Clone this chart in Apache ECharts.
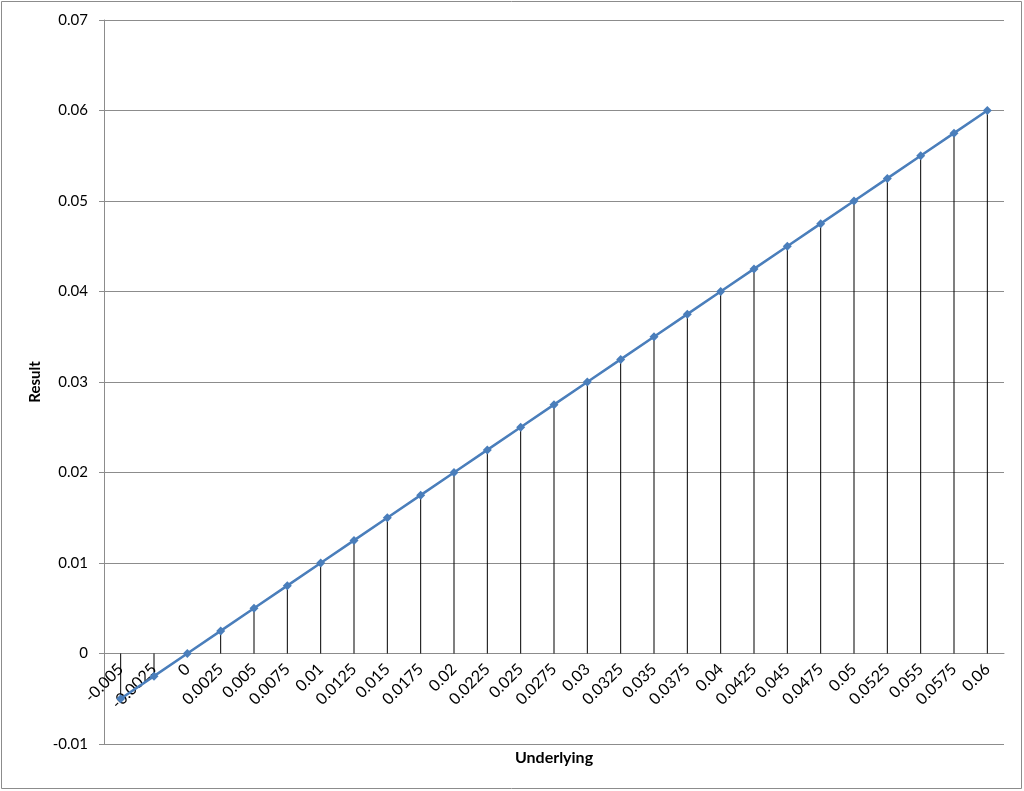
<!DOCTYPE html>
<html><head><meta charset="utf-8">
<script src="https://cdn.jsdelivr.net/npm/echarts@6/dist/echarts.min.js"></script>
<style>html,body{margin:0;padding:0;background:#fff}#c{width:1024px;height:791px}</style>
</head><body><div id="c"></div>
<script>
var categories = ["-0.005","-0.0025","0","0.0025","0.005","0.0075","0.01","0.0125","0.015","0.0175","0.02","0.0225","0.025","0.0275","0.03","0.0325","0.035","0.0375","0.04","0.0425","0.045","0.0475","0.05","0.0525","0.055","0.0575","0.06"];
var resultValues = [-0.005,-0.0025,0,0.0025,0.005,0.0075,0.01,0.0125,0.015,0.0175,0.02,0.0225,0.025,0.0275,0.03,0.0325,0.035,0.0375,0.04,0.0425,0.045,0.0475,0.05,0.0525,0.055,0.0575,0.06];
var yMin = -0.01, yMax = 0.07;
var font = "Lato, 'Open Sans', sans-serif";
var gridTop = 20, gridBottom = 47, H = 791;
var plotH = H - gridTop - gridBottom;
// x axis sits on the zero line: lift it from the grid bottom by the zero's distance
var zeroLift = plotH * (0 - yMin) / (yMax - yMin);
var chart = echarts.init(document.getElementById('c'));
chart.setOption({
  animation: false,
  backgroundColor: '#fff',
  graphic: [{type:'rect', shape:{x:1.5,y:1.5,width:1020,height:787}, style:{fill:'none', stroke:'#8c8c8c', lineWidth:1}}],
  grid: {left:104, right:20, top:gridTop, bottom:gridBottom, containLabel:false, outerBoundsMode:'none'},
  xAxis: {
    type:'category', data:categories, boundaryGap:true,
    offset: -zeroLift,
    name:'Underlying', nameLocation:'middle', nameGap:96, nameMoveOverlap:false,
    nameTextStyle:{fontFamily:font, fontWeight:'bold', fontSize:16, color:'#000', verticalAlign:'top'},
    axisLine:{onZero:false, lineStyle:{color:'#8c8c8c', width:1}},
    axisTick:{show:false},
    axisLabel:{rotate:45, interval:0, fontFamily:font, fontSize:16, color:'#000', margin:13}
  },
  yAxis: {
    type:'value', min:yMin, max:yMax, interval:0.01,
    name:'Result', nameLocation:'middle', nameGap:61, nameRotate:90, nameMoveOverlap:false,
    nameTextStyle:{fontFamily:font, fontWeight:'bold', fontSize:15, color:'#000'},
    axisLine:{show:true, onZero:false, lineStyle:{color:'#8c8c8c'}},
    axisTick:{show:true, inside:false, length:5, lineStyle:{color:'#8c8c8c'}},
    axisLabel:{fontFamily:font, fontSize:15, color:'#000', margin:16},
    splitLine:{show:true, lineStyle:{color:'#8c8c8c', width:1}}
  },
  series: [
    {type:'bar', data:resultValues, barWidth:1, itemStyle:{color:'#000'}, silent:true, z:1},
    {type:'line', data:resultValues, symbol:'diamond', symbolSize:9,
     lineStyle:{color:'#4a7ebb', width:2.5}, itemStyle:{color:'#4a7ebb'}, z:3}
  ]
});
</script></body></html>
